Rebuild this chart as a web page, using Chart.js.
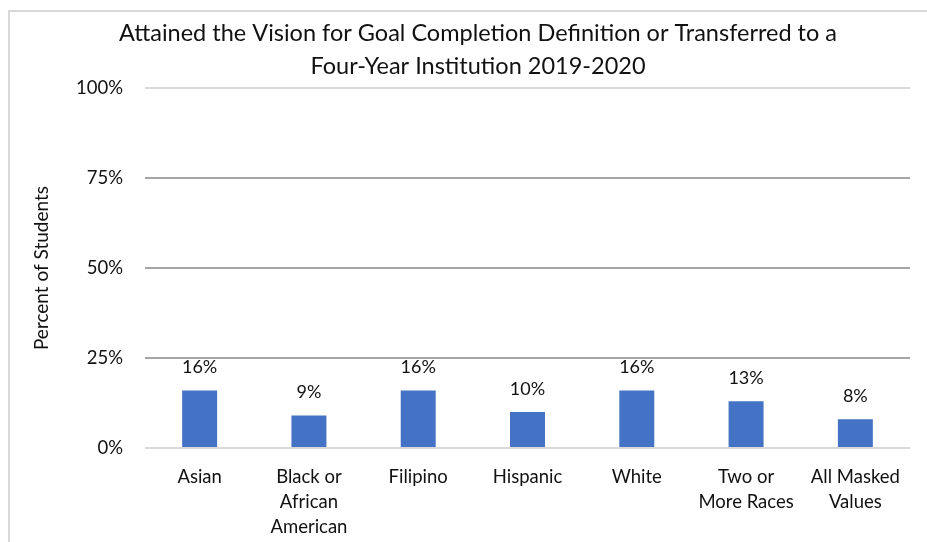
<!DOCTYPE html>
<html>
<head>
<meta charset="utf-8">
<script src="https://cdn.jsdelivr.net/npm/chart.js@4"></script>
<style>
  html, body { margin: 0; padding: 0; background: #fff; }
  #wrap { width: 927px; height: 542px; }
</style>
</head>
<body>
<div id="wrap"><canvas id="chart" width="927" height="542"></canvas></div>
<script>
// categories and values (percent)
var categories = [
    'Asian',
    ['Black or', 'African', 'American'],
    'Filipino',
    'Hispanic',
    'White',
    ['Two or', 'More Races'],
    ['All Masked', 'Values']
];
var percentValues = [16, 9, 16, 10, 16, 13, 8];
var yTicks = [0, 25, 50, 75, 100];
var titleLines = ['Attained the Vision for Goal Completion Definition or Transferred to a',
                  'Four-Year Institution 2019-2020'];

var FONT = 'Lato, "Open Sans", sans-serif';

// light frame at top/left plus the two-line title
var framePlugin = {
    id: 'frame',
    beforeDraw: function(chart) {
        var c = chart.ctx;
        c.save();
        c.strokeStyle = '#d9d9d9';
        c.lineWidth = 2;
        c.beginPath();
        c.moveTo(9, 542);
        c.lineTo(9, 11);
        c.lineTo(927, 11);
        c.stroke();
        c.font = '23.5px ' + FONT;
        c.fillStyle = '#111';
        c.textAlign = 'center';
        c.textBaseline = 'middle';
        c.fillText(titleLines[0], 478, 33);
        c.fillText(titleLines[1], 478, 66);
        c.restore();
    }
};

// value labels above bars
var labelPlugin = {
    id: 'valueLabels',
    afterDatasetsDraw: function(chart) {
        var c = chart.ctx;
        var meta = chart.getDatasetMeta(0);
        c.save();
        c.font = '18px ' + FONT;
        c.fillStyle = '#111';
        c.textAlign = 'center';
        c.textBaseline = 'middle';
        meta.data.forEach(function(bar, i) {
            c.fillText(percentValues[i] + '%', bar.x, bar.y - 23);
        });
        c.restore();
    }
};

var ctx = document.getElementById('chart').getContext('2d');
var chart = new Chart(ctx, {
    type: 'bar',
    data: {
        labels: categories,
        datasets: [{
            data: percentValues,
            backgroundColor: '#4472C4',
            borderWidth: 0,
            categoryPercentage: 1,
            barPercentage: 0.32
        }]
    },
    options: {
        responsive: false,
        animation: false,
        layout: { padding: { left: 0, right: 17, top: 88, bottom: 0 } },
        plugins: {
            legend: { display: false },
            tooltip: { enabled: false },
            title: { display: false }
        },
        scales: {
            x: {
                grid: { display: false },
                border: { display: false },
                ticks: {
                    color: '#111',
                    font: { family: FONT, size: 18.5, lineHeight: 1.35 },
                    maxRotation: 0,
                    autoSkip: false,
                    padding: 9
                },
                afterFit: function(s) { s.height = 94; }
            },
            y: {
                min: 0,
                max: 100,
                afterBuildTicks: function(s) {
                    s.ticks = yTicks.map(function(v) { return { value: v }; });
                },
                border: { display: false },
                grid: {
                    drawTicks: false,
                    lineWidth: 2,
                    color: function(c) {
                        var v = c.tick ? c.tick.value : 0;
                        return (v === 0 || v === 100) ? '#d9d9d9' : '#a6a6a6';
                    }
                },
                ticks: {
                    color: '#111',
                    font: { family: FONT, size: 18.5 },
                    padding: 22,
                    callback: function(v) { return v + '%'; }
                },
                title: {
                    display: true,
                    text: 'Percent of Students',
                    color: '#111',
                    font: { family: FONT, size: 19, weight: 'normal' },
                    padding: { top: 30, bottom: 0 }
                },
                afterFit: function(s) { s.width = 145; }
            }
        }
    },
    plugins: [framePlugin, labelPlugin]
});
</script>
</body>
</html>
